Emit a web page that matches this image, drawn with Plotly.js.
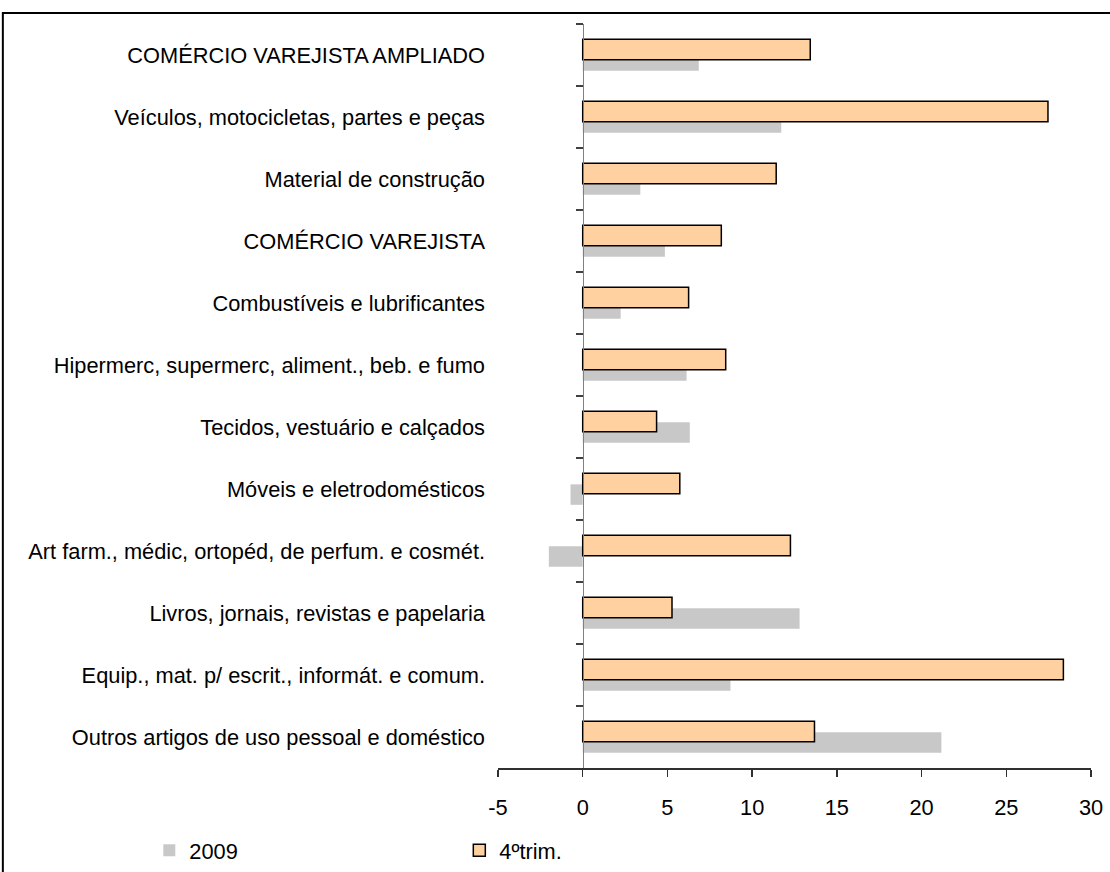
<!DOCTYPE html>
<html>
<head>
<meta charset="utf-8">
<script src="https://cdn.plot.ly/plotly-3.0.1.min.js"></script>
<style>
html,body{margin:0;padding:0;background:#fff;}
#chart{width:1110px;height:872px;}
</style>
</head>
<body>
<div id="chart"></div>
<script>
var categories = [
  "COMÉRCIO VAREJISTA AMPLIADO",
  "Veículos, motocicletas, partes e peças",
  "Material de construção",
  "COMÉRCIO VAREJISTA",
  "Combustíveis e lubrificantes",
  "Hipermerc, supermerc, aliment., beb. e fumo",
  "Tecidos, vestuário e calçados",
  "Móveis e eletrodomésticos",
  "Art farm., médic, ortopéd, de perfum. e cosmét.",
  "Livros, jornais, revistas e papelaria",
  "Equip., mat. p/ escrit., informát. e comum.",
  "Outros artigos de uso pessoal e doméstico"
];
var values2009 = [6.85, 11.72, 3.40, 4.85, 2.24, 6.13, 6.32, -0.72, -2.0, 12.8, 8.72, 21.17];
var values4tri = [13.43, 27.46, 11.42, 8.18, 6.25, 8.44, 4.36, 5.73, 12.26, 5.27, 28.37, 13.68];
var xTicks = [-5, 0, 5, 10, 15, 20, 25, 30];

var font = {family: "Liberation Sans, Arial, sans-serif", size: 21.8, color: "#000"};

var traces = [
  {
    type: "bar", orientation: "h", name: "2009",
    x: values2009, y: categories,
    width: 0.33, offset: -0.075,
    marker: {color: "#c8c8c8", line: {width: 0}},
    hoverinfo: "x+y"
  },
  {
    type: "bar", orientation: "h", name: "4ºtrim.",
    x: values4tri, y: categories,
    width: 0.33, offset: -0.255,
    marker: {color: "#ffd0a0", line: {width: 1.5, color: "#000"}},
    hoverinfo: "x+y"
  },
  {
    type: "scatter", mode: "none", x: values4tri.map(function(){return 0;}), y: categories,
    yaxis: "y2", showlegend: false, hoverinfo: "skip"
  }
];

var layout = {
  width: 1110, height: 872,
  margin: {l: 498, r: 19, t: 24, b: 104, autoexpand: false},
  paper_bgcolor: "#fff", plot_bgcolor: "rgba(0,0,0,0)",
  font: font,
  barmode: "overlay",
  showlegend: true,
  legend: {
    orientation: "h", x: -0.588, xanchor: "left", y: -0.111, yanchor: "middle",
    entrywidth: 265, entrywidthmode: "pixels",
    font: font, traceorder: "normal"
  },
  xaxis: {
    range: [-5, 30], tickvals: xTicks, ticktext: xTicks.map(String),
    showgrid: false, zeroline: false,
    showline: true, linecolor: "#303030", linewidth: 1.5,
    ticks: "outside", ticklen: 7, tickcolor: "#303030", tickwidth: 1.5,
    ticklabelstandoff: 12,
    tickfont: font, fixedrange: true
  },
  yaxis: {
    type: "category", range: [11.5, -0.5],
    showgrid: false, zeroline: false, showline: false, ticks: "",
    ticklabelstandoff: 12, tickfont: font, fixedrange: true
  },
  yaxis2: {
    type: "category", overlaying: "y", matches: "y",
    anchor: "free", position: 5/35, side: "left",
    showgrid: false, zeroline: false,
    showline: true, linecolor: "#808080", linewidth: 1.5,
    ticks: "outside", tickson: "boundaries", ticklen: 7, tickcolor: "#404040", tickwidth: 1.5,
    showticklabels: false, fixedrange: true
  },
  shapes: [{
    type: "rect", xref: "paper", yref: "paper",
    x0: -0.835, x1: 1.2, y0: -0.3, y1: 1.0148,
    line: {color: "#000", width: 2}, fillcolor: "rgba(0,0,0,0)", layer: "above"
  }]
};

Plotly.newPlot("chart", traces, layout, {displayModeBar: false, staticPlot: true});
</script>
</body>
</html>
